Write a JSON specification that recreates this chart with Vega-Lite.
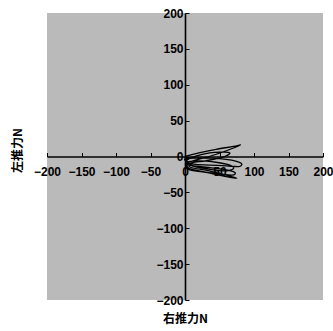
{
  "$schema": "https://vega.github.io/schema/vega-lite/v6.json",
  "autosize": "none",
  "width": 276,
  "height": 287,
  "padding": {"left": 47, "top": 13, "right": 10, "bottom": 31},
  "background": "white",
  "config": {
    "view": {"stroke": null, "fill": "#bababa"},
    "axis": {"grid": false}
  },
  "data": {
    "values": [
      {"i": 1, "r": 0, "l": 0}, {"i": 2, "r": 20, "l": 5}, {"i": 3, "r": 45, "l": 10}, {"i": 4, "r": 70, "l": 14},
      {"i": 5, "r": 80, "l": 16}, {"i": 6, "r": 60, "l": 8}, {"i": 7, "r": 35, "l": 0}, {"i": 8, "r": 15, "l": -5},
      {"i": 9, "r": 5, "l": -8}, {"i": 10, "r": 0, "l": -5},
      {"i": 11, "r": 2, "l": -3}, {"i": 12, "r": 25, "l": -2}, {"i": 13, "r": 50, "l": -3}, {"i": 14, "r": 72, "l": -6},
      {"i": 15, "r": 82, "l": -10}, {"i": 16, "r": 78, "l": -14}, {"i": 17, "r": 60, "l": -13}, {"i": 18, "r": 35, "l": -12},
      {"i": 19, "r": 15, "l": -11}, {"i": 20, "r": 3, "l": -10},
      {"i": 21, "r": 5, "l": -12}, {"i": 22, "r": 30, "l": -15}, {"i": 23, "r": 55, "l": -18}, {"i": 24, "r": 72, "l": -22},
      {"i": 25, "r": 68, "l": -26}, {"i": 26, "r": 45, "l": -24}, {"i": 27, "r": 20, "l": -20}, {"i": 28, "r": 5, "l": -16},
      {"i": 29, "r": 3, "l": -5}, {"i": 30, "r": 25, "l": 3}, {"i": 31, "r": 50, "l": 6}, {"i": 32, "r": 65, "l": 5},
      {"i": 33, "r": 55, "l": -1}, {"i": 34, "r": 30, "l": -6}, {"i": 35, "r": 10, "l": -9},
      {"i": 36, "r": 8, "l": -15}, {"i": 37, "r": 35, "l": -20}, {"i": 38, "r": 60, "l": -26}, {"i": 39, "r": 75, "l": -30},
      {"i": 40, "r": 60, "l": -28}, {"i": 41, "r": 30, "l": -22}, {"i": 42, "r": 5, "l": -18}, {"i": 43, "r": 2, "l": -8},
      {"i": 44, "r": 20, "l": -6}, {"i": 45, "r": 45, "l": -8}, {"i": 46, "r": 65, "l": -12}, {"i": 47, "r": 70, "l": -17},
      {"i": 48, "r": 55, "l": -20}, {"i": 49, "r": 30, "l": -17}, {"i": 50, "r": 8, "l": -12}, {"i": 51, "r": 0, "l": 0}
    ]
  },
  "mark": {"type": "line", "color": "black", "strokeWidth": 1.3, "interpolate": "cardinal"},
  "encoding": {
    "order": {"field": "i", "type": "quantitative"},
    "x": {
      "field": "r", "type": "quantitative",
      "scale": {"domain": [-200, 200], "nice": false},
      "axis": {
        "orient": "bottom", "offset": -143.5,
        "values": [-200, -150, -100, -50, 0, 50, 100, 150, 200],
        "domainColor": "black", "domainWidth": 1.6,
        "tickColor": "black", "tickSize": -4, "tickWidth": 1,
        "labelPadding": 14, "labelFont": "Liberation Sans", "labelFontWeight": "bold", "labelFontSize": 12, "labelColor": "black",
        "labelOverlap": false, "labelBound": false, "labelFlush": false,
        "title": "右推力N", "titleFont": "Noto Sans CJK JP", "titleFontWeight": "bold", "titleFontSize": 12, "titleColor": "black",
        "titleY": 161.5, "titleBaseline": "middle"
      }
    },
    "y": {
      "field": "l", "type": "quantitative",
      "scale": {"domain": [-200, 200], "nice": false},
      "axis": {
        "orient": "left", "offset": -138,
        "values": [-200, -150, -100, -50, 0, 50, 100, 150, 200],
        "domainColor": "black", "domainWidth": 1.6,
        "tickColor": "black", "tickSize": -4, "tickWidth": 1,
        "labelPadding": 6, "labelFont": "Liberation Sans", "labelFontWeight": "bold", "labelFontSize": 12, "labelColor": "black",
        "labelOverlap": false, "labelBound": false, "labelFlush": false,
        "title": "左推力N", "titleFont": "Noto Sans CJK JP", "titleFontWeight": "bold", "titleFontSize": 12, "titleColor": "black",
        "titleX": -168, "titleY": 137, "titleAngle": -90, "titleBaseline": "middle"
      }
    }
  }
}
